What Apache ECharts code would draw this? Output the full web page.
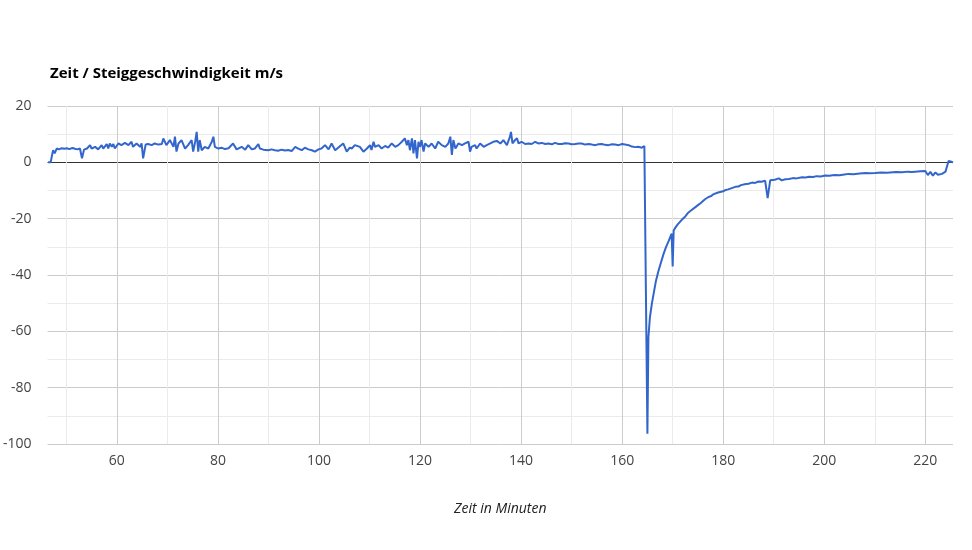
<!DOCTYPE html>
<html>
<head>
<meta charset="utf-8">
<script src="https://cdn.jsdelivr.net/npm/echarts@6/dist/echarts.min.js"></script>
<style>
html,body{margin:0;padding:0;background:#fff;}
#chart{width:972px;height:550px;}
</style>
</head>
<body>
<div id="chart"></div>
<script>
// time in minutes
const minutes = [
46.4,46.9,47.2,47.4,47.7,48.1,48.5,49.1,49.6,50.1,50.6,51.2,51.7,52.2,52.7,53.1,53.5,54.1,54.7,55.0,
55.7,56.3,57.0,57.3,58.0,58.3,58.6,59.0,59.3,59.6,60.3,60.9,61.6,62.3,62.9,63.2,63.9,64.6,64.9,65.2,
65.7,66.2,66.9,67.5,68.2,68.9,69.2,69.8,70.5,71.2,71.5,71.8,72.2,72.8,73.5,74.1,74.8,75.1,75.5,75.8,
76.1,76.4,76.8,77.4,78.1,78.8,79.1,79.4,80.1,80.7,81.4,82.1,83.0,83.7,84.7,85.4,86.0,86.7,87.3,88.0,
88.3,89.0,90.0,90.6,91.3,91.9,92.6,93.3,93.9,94.6,95.3,95.9,96.6,97.2,97.9,98.6,99.2,99.9,100.5,101.2,
101.9,102.5,103.2,103.8,104.2,104.8,105.5,106.1,106.5,107.1,108.1,108.8,109.5,110.1,110.4,110.8,111.1,111.8,112.4,113.1,
113.7,114.4,115.1,115.7,116.4,117.0,117.4,117.7,118.0,118.4,118.7,119.0,119.4,119.7,120.0,120.3,120.7,121.0,121.7,122.3,
123.0,123.6,124.3,125.0,125.6,126.0,126.3,126.6,127.0,127.6,128.3,128.9,129.6,129.9,130.2,130.9,131.2,131.9,132.6,133.2,
133.9,134.5,135.2,135.9,136.5,137.2,137.8,138.0,138.3,138.8,139.2,139.5,140.1,140.8,141.5,142.1,142.8,143.4,144.1,144.8,
145.4,146.1,146.7,147.4,148.1,148.7,149.4,150.0,150.7,151.4,152.0,152.7,153.4,154.0,154.7,155.3,156.0,156.6,157.3,158.0,
158.6,159.3,160.0,160.6,161.3,161.9,162.6,163.2,163.9,164.4,165.0,165.2,165.5,165.9,166.3,166.7,167.2,167.7,168.2,168.7,
169.2,169.8,170.0,170.2,170.6,171.0,171.8,172.5,173.0,173.5,174.5,175.0,175.5,176.4,177.1,177.6,178.0,179.0,180.0,180.5,
181.0,182.4,183.0,183.5,184.5,185.0,185.7,186.3,187.0,187.6,188.3,188.8,189.3,190.2,191.0,191.6,192.3,193.0,193.8,194.5,
195.6,196.3,197.0,197.8,198.5,199.3,200.2,201.0,202.0,203.0,204.0,204.8,205.8,207.0,208.2,209.0,210.1,211.3,212.4,213.0,
214.2,215.4,216.5,217.3,218.0,219.0,220.0,220.5,221.0,221.5,222.0,222.5,223.3,224.0,224.3,224.6,225.0,225.5
];
// climb rate in m/s
const rates = [
0.0,0.0,2.8,4.3,3.2,4.9,4.6,5.0,4.8,5.0,4.7,5.1,4.8,4.6,4.9,1.4,4.5,4.9,6.1,4.9,
5.5,4.6,6.1,4.9,6.5,4.9,6.7,5.5,6.5,4.9,6.7,6.1,6.9,6.1,7.3,5.5,6.7,5.5,6.7,1.4,
6.3,6.5,6.1,6.7,6.3,6.5,8.5,6.1,7.9,5.5,9.1,3.8,6.7,7.9,4.9,6.1,7.9,3.8,7.3,10.8,
3.8,7.9,4.3,5.5,4.9,7.3,9.1,5.5,4.9,5.2,4.7,5.0,6.7,4.6,5.5,4.5,6.1,4.6,4.9,6.5,
4.9,4.5,4.3,4.6,4.3,4.1,4.5,4.2,4.4,4.0,5.5,4.9,4.3,5.2,4.6,4.3,3.8,4.6,4.9,6.1,
4.6,6.7,4.3,5.2,5.8,6.7,3.8,5.2,4.9,6.1,5.5,3.8,4.9,6.1,4.4,7.3,5.5,6.1,4.9,5.8,
5.2,6.7,5.5,6.1,7.3,8.5,6.1,7.9,4.3,8.5,3.2,7.9,1.4,7.3,5.5,7.9,3.8,6.7,5.5,6.7,
4.9,7.3,6.1,5.5,6.7,9.1,2.6,7.9,4.9,6.7,6.1,6.7,7.3,3.8,5.5,6.1,4.9,6.7,5.5,6.1,
6.7,7.3,7.6,6.7,7.9,6.1,9.1,10.8,6.7,7.9,8.5,6.7,7.3,6.5,6.7,6.5,7.3,6.7,6.9,6.5,
6.7,6.4,6.9,6.5,6.5,6.8,6.7,6.4,6.5,6.7,6.7,6.3,6.5,6.3,6.1,6.4,6.5,6.2,6.1,6.4,
6.3,6.1,6.5,6.3,6.1,5.6,5.4,5.5,5.2,5.8,-96.4,-62.0,-55.0,-50.0,-46.0,-42.0,-38.5,-35.5,-32.5,-30.0,
-28.0,-25.3,-37.0,-24.2,-23.0,-22.0,-20.4,-19.2,-18.0,-17.3,-15.9,-15.2,-14.5,-13.1,-12.3,-12.0,-11.4,-10.7,-10.3,-9.8,
-9.6,-8.7,-8.6,-8.1,-7.7,-7.6,-7.2,-7.3,-6.8,-6.9,-6.5,-12.7,-6.4,-6.2,-5.7,-6.4,-6.0,-5.9,-5.6,-5.7,
-5.3,-5.4,-5.1,-5.2,-4.9,-5.0,-4.7,-4.8,-4.5,-4.6,-4.3,-4.1,-4.2,-4.0,-3.8,-3.9,-3.8,-3.6,-3.7,-3.6,
-3.4,-3.5,-3.3,-3.4,-3.3,-3.2,-3.1,-4.5,-3.4,-4.7,-3.6,-4.4,-4.1,-3.3,-2.8,0.5,0.3,0.0
];
const xMajorTicks = [60, 80, 100, 120, 140, 160, 180, 200, 220];
const xMinorTicks = [50, 70, 90, 110, 130, 150, 170, 190, 210];
const xMin = 46.28, xMax = 225.48;

const seriesData = minutes.map((t, i) => [t, rates[i]]);
const font = "'Open Sans', 'Noto Sans', sans-serif";

const chart = echarts.init(document.getElementById('chart'), null, {renderer: 'canvas'});
chart.setOption({
  animation: false,
  textStyle: {fontFamily: font},
  title: {
    text: 'Zeit / Steiggeschwindigkeit m/s',
    left: 45, top: 61,
    textStyle: {fontFamily: font, fontSize: 15, fontWeight: 'bold', color: '#000'}
  },
  grid: {left: 46, right: 19, top: 106, bottom: 106, containLabel: false},
  xAxis: [{
    type: 'value', min: xMin, max: xMax,
    axisLine: {show: false},
    axisTick: {show: false, customValues: xMajorTicks},
    axisLabel: {customValues: xMajorTicks, fontSize: 14, color: '#444', margin: 10, fontFamily: font},
    splitLine: {show: true, lineStyle: {color: '#cccccc', width: 1}},
    name: 'Zeit in Minuten', nameLocation: 'middle', nameGap: 58,
    nameTextStyle: {fontStyle: 'italic', fontSize: 14, color: '#222', fontFamily: font}
  }, {
    type: 'value', min: xMin, max: xMax, position: 'top',
    axisLine: {show: false},
    axisTick: {show: false, customValues: xMinorTicks},
    axisLabel: {show: false, customValues: xMinorTicks},
    splitLine: {show: true, lineStyle: {color: '#ebebeb', width: 1}}
  }],
  yAxis: {
    type: 'value', min: -100, max: 20, interval: 20,
    axisLine: {show: false},
    axisTick: {show: false},
    axisLabel: {fontSize: 14, color: '#444', margin: 16, fontFamily: font},
    splitLine: {show: true, lineStyle: {color: ['#cccccc','#cccccc','#cccccc','#cccccc','#cccccc','#333333','#cccccc'], width: 1}},
    minorTick: {show: false, splitNumber: 2},
    minorSplitLine: {show: true, lineStyle: {color: '#ebebeb', width: 1}}
  },
  series: [{
    type: 'line',
    xAxisIndex: 0,
    data: seriesData,
    showSymbol: false,
    symbol: 'none',
    lineStyle: {color: '#3366cc', width: 2},
    itemStyle: {color: '#3366cc'},
    z: 5
  }]
});
</script>
</body>
</html>
